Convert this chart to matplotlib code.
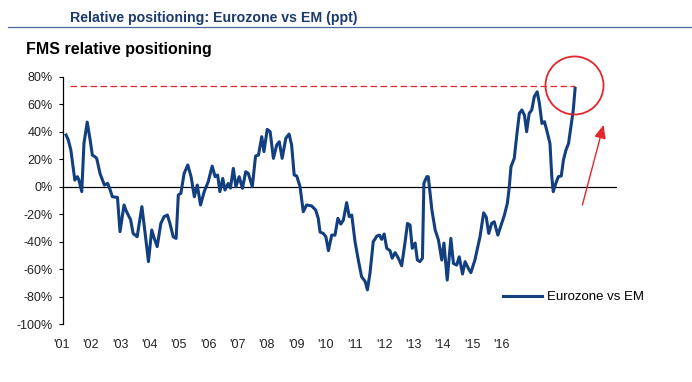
import matplotlib
matplotlib.use('Agg')
import matplotlib.pyplot as plt
import matplotlib.transforms as mtransforms
from matplotlib import font_manager as fm
from matplotlib.lines import Line2D

# ---------------- data ----------------
years = [2001.03, 2001.09, 2001.16, 2001.27, 2001.34, 2001.38, 2001.46, 2001.52, 2001.61, 2001.69,
         2001.75, 2001.82, 2001.87, 2001.96, 2002.08, 2002.17, 2002.24, 2002.30, 2002.44, 2002.51,
         2002.62, 2002.69, 2002.80, 2002.87, 2002.98, 2003.11, 2003.20, 2003.29, 2003.38, 2003.45,
         2003.53, 2003.63, 2003.72, 2003.81, 2003.88, 2003.97, 2004.05, 2004.11, 2004.18, 2004.27,
         2004.37, 2004.46, 2004.55, 2004.63, 2004.72, 2004.82, 2004.93, 2005.04, 2005.12, 2005.19,
         2005.25, 2005.33, 2005.39, 2005.48, 2005.54, 2005.62, 2005.69, 2005.78, 2005.87, 2005.96,
         2006.03, 2006.14, 2006.23, 2006.31, 2006.40, 2006.46, 2006.55, 2006.63, 2006.72, 2006.81,
         2006.88, 2006.96, 2007.06, 2007.15, 2007.22, 2007.29, 2007.36, 2007.45, 2007.54, 2007.63,
         2007.77, 2007.88, 2007.95, 2008.00, 2008.09, 2008.16, 2008.23, 2008.32, 2008.41, 2008.49,
         2008.57, 2008.64, 2008.73, 2008.80, 2008.87, 2008.96, 2009.05, 2009.14, 2009.24, 2009.30,
         2009.37, 2009.46, 2009.56, 2009.63, 2009.69, 2009.76, 2009.83, 2009.92, 2009.98, 2010.06,
         2010.15, 2010.24, 2010.33, 2010.40, 2010.47, 2010.53, 2010.61, 2010.67, 2010.74, 2010.81,
         2010.85, 2010.93, 2010.97, 2011.07, 2011.16, 2011.25, 2011.34, 2011.40, 2011.49, 2011.59,
         2011.66, 2011.75, 2011.82, 2011.91, 2011.98, 2012.07, 2012.14, 2012.25, 2012.39, 2012.49,
         2012.56, 2012.63, 2012.71, 2012.78, 2012.88, 2012.97, 2013.06, 2013.14, 2013.19, 2013.24,
         2013.33, 2013.40, 2013.47, 2013.54, 2013.61, 2013.67, 2013.74, 2013.81, 2013.88, 2013.96,
         2014.02, 2014.09, 2014.16, 2014.22, 2014.31, 2014.36, 2014.40, 2014.47, 2014.54, 2014.62,
         2014.68, 2014.75, 2014.82, 2014.89, 2014.95, 2015.00]

eurozone_vs_em = [37.6, 34, 26.7, 4.8, 7.3, 5, -3.6, 31.5, 47, 34,
                  23, 21.8, 20.6, 9.7, 1.2, 2.4, -2.4, -7.3, -7.8, -32.7,
                  -13.3, -18.2, -24, -34, -36.4, -14.5, -34, -54.5, -31.5, -37.6,
                  -43.6, -26.7, -21.8, -20.6, -26.7, -36.4, -37.6, -6, -4.8, 9.7,
                  15.8, 7.3, -7.3, 1.2, -13.3, -3.6, 3.6, 15, 7.3, 8.5,
                  -3.6, 6, -2.4, 2.4, -1, 13.3, 0, 7.3, -1.2, 10.9,
                  9.7, 0, 22.3, 23, 36.4, 25.5, 41.7, 40, 20.6, 30.3,
                  32.7, 20.6, 35.2, 38.3, 30.3, 8.5, 7.8, 0, -18.2, -13.3,
                  -14, -17, -23, -33, -34, -36.4, -46.5, -35.2, -35.2, -23,
                  -27.2, -24.2, -11.6, -21.8, -20.6, -40, -53.3, -65.5, -69, -75,
                  -63, -40, -35.9, -35.2, -38.3, -34.4, -44.8, -46.5, -52, -47.9,
                  -52, -57.5, -41, -26.7, -27.9, -44.8, -41, -53.3, -54.5, -52,
                  2.4, 7.3, 7.3, -17, -31.5, -38.8, -53.3, -41, -67.9, -37.6,
                  -55.8, -57, -51, -63.5, -54.5, -59.4, -62.5, -53.3, -36.4, -19,
                  -22, -34, -26.7, -25.5, -35.2, -27.9, -20.6, -12.1, -1.2, 14.5,
                  20.6, 37.6, 53.3, 55.8, 52, 40, 53.3, 55.8, 65.5, 69,
                  60.6, 46, 47.3, 41.2, 31.5, 7.3, -3.6, 2.4, 7.3, 7.8,
                  19.4, 26.7, 31.5, 44.8, 55.8, 71.5]

x_tick_labels = ["'01", "'02", "'03", "'04", "'05", "'06", "'07", "'08",
                 "'09", "'10", "'11", "'12", "'13", "'14", "'15", "'16"]
y_ticks = [-100, -80, -60, -40, -20, 0, 20, 40, 60, 80]
peak_level = 73
series_label = 'Eurozone vs EM'
title_text = 'Relative positioning: Eurozone vs EM (ppt)'
subtitle_text = 'FMS relative positioning'

# ---------------- fonts ----------------
installed = {f.name for f in fm.fontManager.ttflist}
narrow = 'Liberation Sans Narrow' in installed
head_family = 'Liberation Sans Narrow' if narrow else 'Liberation Sans'
title_size = 12.5 if narrow else 10.2
sub_size = 13.5 if narrow else 11.5
plt.rcParams['font.family'] = ['Liberation Sans', 'DejaVu Sans']

NAVY = '#123F7F'
RED = '#E3262A'

W, H = 692, 382
fig = plt.figure(figsize=(W / 100, H / 100), dpi=100)
fig.patch.set_facecolor('white')
ax = fig.add_axes([63 / W, 1 - 324.2 / H, 554 / W, (324.2 - 76.7) / H])

ax.plot(years, eurozone_vs_em, color=NAVY, lw=2.2, label=series_label,
        solid_joinstyle='round', zorder=3)
ax.axhline(0, color='black', lw=0.9, zorder=2)
ax.hlines(peak_level, 2001.14, years[-1], colors=RED, lw=0.9,
          linestyles=(0, (5.3, 2.7)), zorder=2)

ax.set_xlim(2000.945, 2016.15)
ax.set_ylim(-100, 80)

for s in ['top', 'right', 'bottom']:
    ax.spines[s].set_visible(False)
ax.spines['left'].set_color('black')
ax.spines['left'].set_linewidth(0.9)

ax.set_yticks(y_ticks)
ax.set_yticklabels([f'{v}%' for v in y_ticks])
ax.tick_params(axis='y', direction='out', length=3, width=0.8, labelsize=9,
               pad=4.5, labelcolor='#222222')
ax.set_xticks([])

# x labels (placed as in the reference, with their own spacing)
trans = mtransforms.blended_transform_factory(ax.transData, fig.transFigure)
for k, lab in enumerate(x_tick_labels):
    ax.text(2000.909 + 0.8043 * k, 1 - 348 / H, lab, transform=trans,
            ha='center', va='baseline', fontsize=9, color='#222222', clip_on=False)

# highlight circle + arrow
ax.plot([2014.97], [74], marker='o', ms=41.8, mfc='none', mec=RED, mew=1.3,
        clip_on=False, zorder=4)
ax.annotate('', xy=(2015.78, 44.9), xytext=(2015.20, -13.3),
            arrowprops=dict(arrowstyle='-|>,head_length=0.8,head_width=0.35',
                            color=RED, lw=1, mutation_scale=10,
                            shrinkA=0, shrinkB=0))

# legend
ax.legend(loc='center left', bbox_to_anchor=(503 / W, 1 - 297.3 / H),
          bbox_transform=fig.transFigure, frameon=False, fontsize=9.5,
          handlelength=2.95, handletextpad=0.36, borderpad=0, borderaxespad=0)

# titles
fig.text(70 / W, 1 - 21.7 / H, title_text, ha='left', va='baseline',
         fontsize=title_size, fontweight='bold', color='#1B3A6E', family=head_family)
fig.add_artist(Line2D([8 / W, 1.0], [1 - 26.5 / H, 1 - 26.5 / H],
                      transform=fig.transFigure, color='#4A6A9A', lw=0.9))
fig.text(26 / W, 1 - 54.3 / H, subtitle_text, ha='left', va='baseline',
         fontsize=sub_size, fontweight='bold', color='black', family=head_family)

fig.savefig('out.png', dpi=100)
